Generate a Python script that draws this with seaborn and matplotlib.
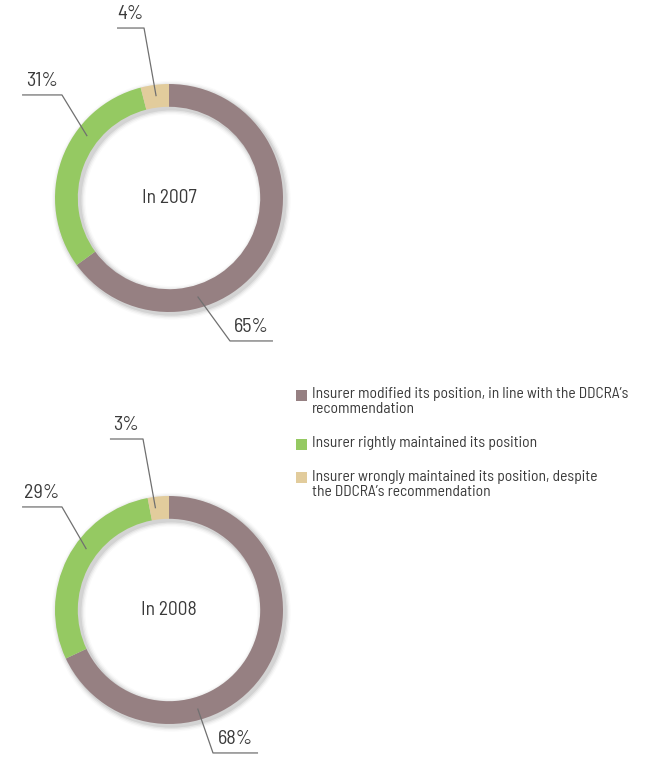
import numpy as np
import matplotlib.pyplot as plt
import seaborn as sns
from matplotlib.patches import Rectangle

# data
years = ["In 2007", "In 2008"]
categories = [
    "Insurer modified its position, in line with the DDCRA’s\nrecommendation",
    "Insurer rightly maintained its position",
    "Insurer wrongly maintained its position, despite\nthe DDCRA’s recommendation",
]
shares_2007 = [65, 31, 4]
shares_2008 = [68, 29, 3]
labels_2007 = ["65%", "31%", "4%"]
labels_2008 = ["68%", "29%", "3%"]

colors = ["#968082", "#95c962", "#e2cc9c"]
text_color = "#3a3a3a"

sns.set_style("white")
plt.rcParams["font.family"] = ["Barlow Semi Condensed", "DejaVu Sans"]

W, H = 665, 757
fig = plt.figure(figsize=(W / 100, H / 100), dpi=100)

R_PX = 114  # outer radius in pixels
LIM = 1.25


def donut_axes(cx, cy):
    half = R_PX * LIM
    return fig.add_axes([(cx - half) / W, (H - cy - half) / H, 2 * half / W, 2 * half / H])


def ring_point(frac_from_top, r=0.9):
    # frac_from_top: fraction of the circle, counter-clockwise from 12 o'clock
    a = np.pi / 2 + 2 * np.pi * frac_from_top
    return r * np.cos(a), r * np.sin(a)


def draw_donut(ax, values, title, labels, label_layout):
    # soft shadow behind the ring
    for i, alpha in enumerate([0.07, 0.05, 0.035, 0.02]):
        ax.pie([1], radius=1.0 + 0.012 * (i + 1), colors=["#000000"], startangle=90,
               wedgeprops=dict(width=0.2 + 0.024 * (i + 1), alpha=alpha, linewidth=0),
               center=(0.02, -0.02))
    ax.pie(values, colors=colors, startangle=90, counterclock=False, radius=1.0,
           wedgeprops=dict(width=0.2, linewidth=0))
    ax.set_xlim(-LIM, LIM)
    ax.set_ylim(-LIM, LIM)
    ax.set_aspect("equal")
    ax.axis("off")
    ax.text(0, 0, title, ha="center", va="center", fontsize=14, color=text_color)

    for lab, (frac, elbow, end) in zip(labels, label_layout):
        x0, y0 = ring_point(frac)
        ex, ey = elbow
        ax.plot([x0, ex, end], [y0, ey, ey], color="#707070", lw=0.9,
                solid_capstyle="butt", clip_on=False)
        ax.text((ex + end) / 2, ey + 0.045, lab, ha="center", va="bottom",
                fontsize=14.5, color=text_color)


# label layout: (anchor fraction ccw from top, elbow point, underline end x)
layout_2007 = [
    (-0.455, (0.535, -1.254), 0.912),
    (0.147, (-0.939, 0.904), -1.289),
    (0.020, (-0.219, 1.491), -0.456),
]
layout_2008 = [
    (-0.455, (0.386, -1.254), 0.781),
    (0.149, (-0.939, 0.904), -1.289),
    (0.021, (-0.228, 1.50), -0.518),
]

ax1 = donut_axes(169, 198)
draw_donut(ax1, shares_2007, years[0], labels_2007, layout_2007)

ax2 = donut_axes(169, 610)
draw_donut(ax2, shares_2008, years[1], labels_2008, layout_2008)

# legend: square aligned with the first text line of each entry
LINE_PX, GAP_PX, SQ_PX = 16.5, 16.5, 11
y = 395
for c, lab in zip(colors, categories):
    fig.add_artist(Rectangle((296 / W, 1 - (y + SQ_PX / 2) / H), SQ_PX / W, SQ_PX / H,
                             facecolor=c, edgecolor="none", transform=fig.transFigure))
    fig.text(312 / W, 1 - (y - 8) / H, lab, ha="left", va="top", fontsize=11.2,
             color=text_color, linespacing=1.1)
    y += LINE_PX * (lab.count("\n") + 1) + GAP_PX

fig.savefig("out.png", dpi=100, facecolor="white")
